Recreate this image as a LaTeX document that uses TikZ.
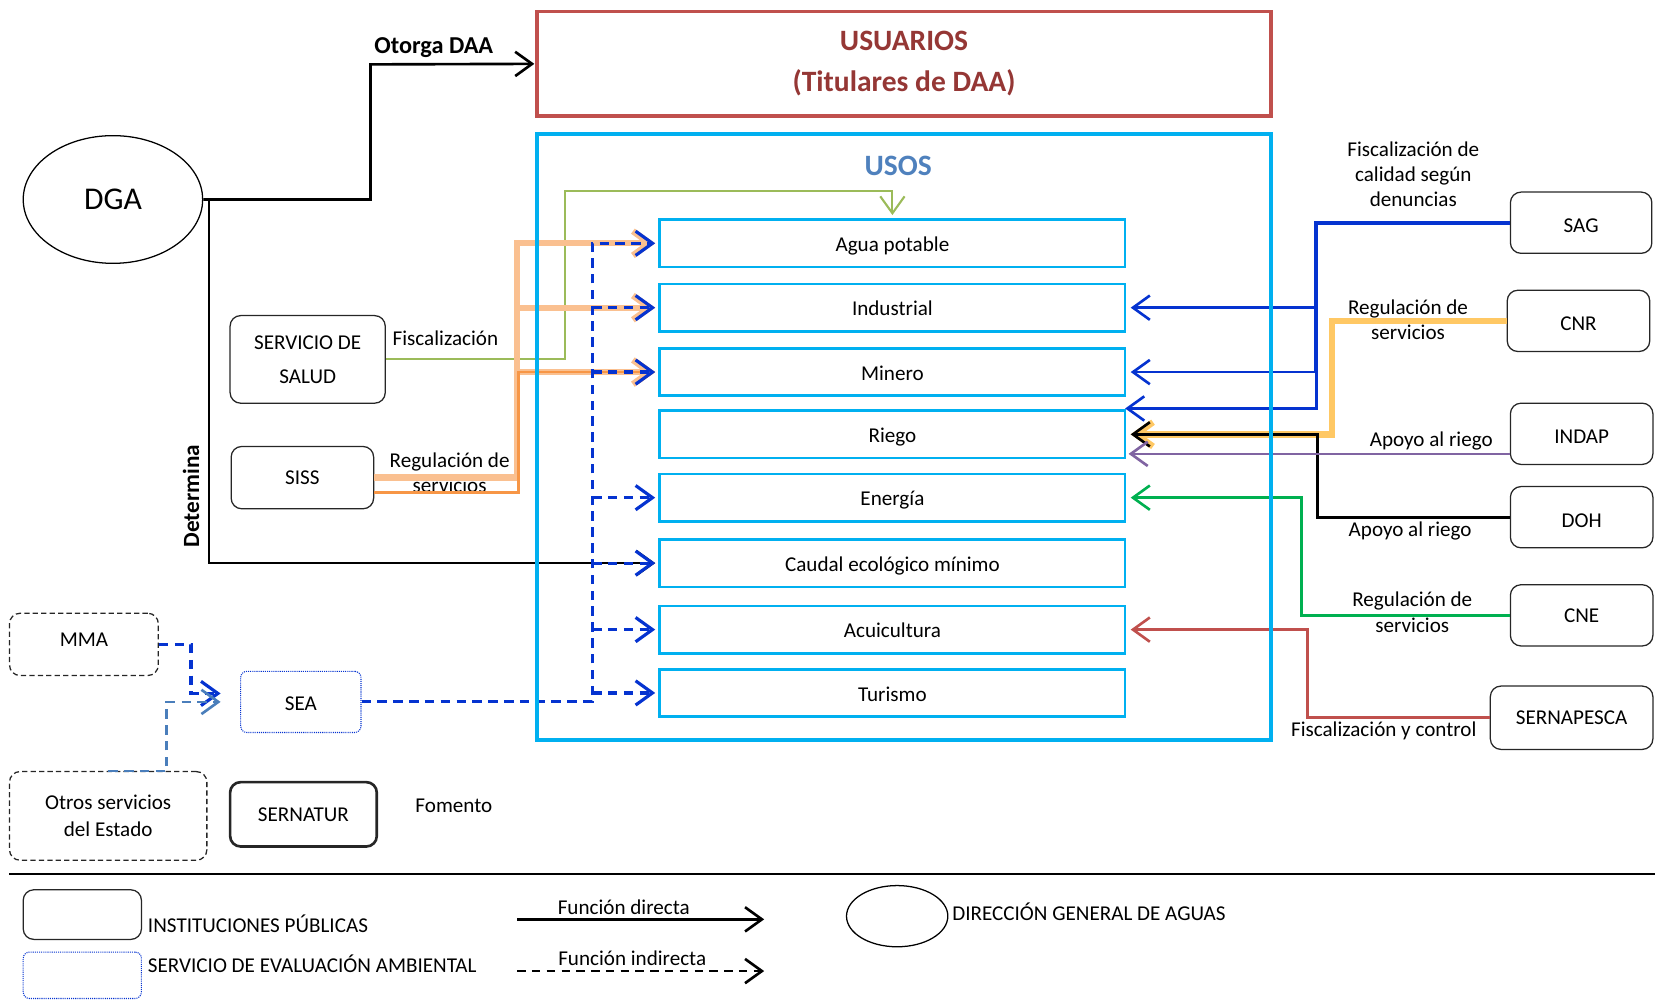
\documentclass[tikz,border=0pt]{standalone}
\usepackage{fontspec}
\setmainfont{Carlito}
\usetikzlibrary{arrows.meta,shapes.geometric}
\definecolor{cred}{HTML}{C0504D}
\definecolor{cdred}{HTML}{953735}
\definecolor{ccyan}{HTML}{00B0F0}
\definecolor{csteel}{HTML}{4F81BD}
\definecolor{cgreen}{HTML}{9BBB59}
\definecolor{corl}{HTML}{FAC090}
\definecolor{cor}{HTML}{F79646}
\definecolor{cblue}{HTML}{0533D0}
\definecolor{cyel}{HTML}{FFC864}
\definecolor{cpur}{HTML}{8064A2}
\definecolor{cgrn}{HTML}{00B050}
\definecolor{clb}{HTML}{4A7EBB}
\begin{document}
\begin{tikzpicture}[x=1pt,y=-1pt,
  every node/.style={inner sep=0pt},
  >={Straight Barb[length=16pt,width=23pt]},
  fs/.style={font=\fontsize{20}{24}\selectfont},
  lbl/.style={fs,align=center},
  usobox/.style={draw=ccyan,line width=2.5pt,minimum width=441pt,minimum height=45pt,fs,text height=15.5pt,text depth=0pt},
  inst/.style={draw=black!85,line width=1.2pt,rounded corners=10pt,align=center,fs},
  lowtext/.style={text height=19pt,text depth=0pt},
  dinst/.style={draw=black!85,line width=1.2pt,dash pattern=on 5pt off 3pt,rounded corners=10pt,align=center,fs},
  bdash/.style={cblue,line width=3pt,dash pattern=on 9pt off 6pt},
  conn/.style={line width=2.5pt,shorten >=3pt},
  bold/.style={font=\fontsize{23}{26}\selectfont\bfseries}]
\useasboundingbox (0,0) rectangle (1568,948);

% ---------- main boxes ----------
\node[draw=cred,line width=3.5pt,minimum width=695pt,minimum height=99pt,align=center,text=cdred,
  font=\fontsize{28}{39}\selectfont\bfseries] (usuarios) at (856.5,60.5) {USUARIOS\\(Titulares de DAA)};
\node[minimum width=695pt,minimum height=574pt] (usos) at (856.5,414) {};
\node[text=csteel,font=\fontsize{28}{30}\selectfont\bfseries] (usostitle) at (851,157) {USOS};

\node[usobox] (agua) at (845.5,230.5) {Agua potable};
\node[usobox] (industrial) at (845.5,291.5) {Industrial};
\node[usobox] (minero) at (845.5,352.5) {Minero};
\node[usobox] (riego) at (845.5,411.5) {Riego};
\node[usobox] (energia) at (845.5,471.5) {Energía};
\node[usobox] (caudal) at (845.5,533.5) {Caudal ecológico mínimo};
\node[usobox] (acui) at (845.5,596.5) {Acuicultura};
\node[usobox] (turismo) at (845.5,656.5) {Turismo};

% ---------- left side ----------
\node[ellipse,draw,line width=1.2pt,minimum width=170pt,minimum height=121pt,
  font=\fontsize{30}{32}\selectfont] (dga) at (107,189) {DGA};
\node[inst,minimum width=147pt,minimum height=83pt,font=\fontsize{20}{32}\selectfont] (salud) at (291.5,340.5) {SERVICIO DE\\SALUD};
\node[inst,minimum width=135pt,minimum height=59pt] (siss) at (286.5,452.5) {SISS};
\node[dinst,minimum width=141pt,minimum height=59pt,text height=8pt,text depth=4pt] (mma) at (79.5,610.5) {MMA};
\node[draw=cblue,line width=1pt,densely dotted,rounded corners=6pt,minimum width=114pt,minimum height=58pt,fs,text height=17pt,text depth=0pt] (sea) at (285,665) {SEA};
\node[dinst,minimum width=187pt,minimum height=84pt,align=center,font=\fontsize{20}{25}\selectfont] (otros) at (102.5,773) {Otros servicios\\del Estado};
\node[inst,line width=2.5pt,minimum width=139pt,minimum height=61pt] (sernatur) at (287.5,771.5) {SERNATUR};
\node[lbl] (fomento) at (430,763) {Fomento};

\node[bold] (otorga) at (411,45) {Otorga DAA};
\node[bold,font=\fontsize{22}{26}\selectfont\bfseries,rotate=90] (determina) at (181,470) {Determina};
\node[lbl] (fisclbl) at (422,320) {Fiscalización};
\node[lbl,font=\fontsize{20}{23}\selectfont] (reglbl) at (426,448) {Regulación de\\servicios};

% ---------- right side ----------
\node[inst,lowtext,minimum width=134pt,minimum height=58pt] (sag) at (1498,211) {SAG};
\node[inst,lowtext,minimum width=135pt,minimum height=58pt] (cnr) at (1495.5,304) {CNR};
\node[inst,lowtext,minimum width=135pt,minimum height=58pt] (indap) at (1498.5,411) {INDAP};
\node[inst,lowtext,minimum width=135pt,minimum height=58pt] (doh) at (1498.5,490) {DOH};
\node[inst,minimum width=135pt,minimum height=58pt] (cne) at (1498.5,583) {CNE};
\node[inst,minimum width=154pt,minimum height=60pt] (sernapesca) at (1489,680) {SERNAPESCA};

\node[lbl] (l1) at (1339,165) {Fiscalización de\\calidad según\\denuncias};
\node[lbl] (l2) at (1334,303) {Regulación de\\servicios};
\node[lbl] (l3) at (1356,418) {Apoyo al riego};
\node[lbl] (l4) at (1336,503) {Apoyo al riego};
\node[lbl] (l5) at (1338,580) {Regulación de\\servicios};
\node[lbl] (l6) at (1311,692) {Fiscalización y control};

% ---------- helper coordinates ----------
\coordinate (otx) at (351,61);
\coordinate (g1) at (535,181);
\coordinate (o1) at (490,291.5);
\coordinate (o2) at (491,352.5);
\coordinate (bx) at (561,0);
\coordinate (mmaj) at (181,657);
\coordinate (seain1) at (209,657);
\coordinate (otj) at (158,665);
\coordinate (seain2) at (209,665);
\coordinate (sx) at (1247,0);
\coordinate (cx) at (1262,0);
\coordinate (dx) at (1248,0);
\coordinate (nx) at (1233,0);
\coordinate (rx) at (1239,0);
\coordinate (ip) at (1431,430);
\coordinate (rtop) at (1066,387);

% ---------- connectors: left ----------
\draw[conn,->,shorten >=1pt] (dga.east) -| (otx) -- (usuarios.west);
\draw[line width=2pt,->,shorten >=3pt] ([xshift=5pt]dga.east) |- (caudal.west);

\draw[cgreen,line width=2pt,->,shorten >=3pt] (salud.east) -| (g1) -| (agua.north);

\draw[corl,line width=6pt,->,shorten >=3pt] (siss.east) -| (o1) |- (agua.west);
\draw[corl,line width=6pt,->,shorten >=3pt] (o1) -- (industrial.west);
\draw[corl,line width=6pt,->,shorten >=3pt] (o2) -- (minero.west);
\draw[cor,line width=2.5pt,->,shorten >=3pt] ([yshift=-14pt]siss.east) -| (o2) -- (minero.west);

\draw[bdash,->,shorten >=3pt] (sea.east) -| (agua.west -| bx) -- (agua.west);
\foreach \n in {industrial,minero,energia,caudal,acui,turismo}
  \draw[bdash,->,shorten >=3pt] (\n.west -| bx) -- (\n.west);

\draw[bdash,->] (mma.east) -| (mmaj) -- (seain1);
\draw[clb,line width=2.5pt,dash pattern=on 9pt off 6pt,->] (otros.north) -| (otj) -- (seain2);

% ---------- connectors: right ----------
\draw[cblue,line width=3.5pt] (sag.west) -| (minero.east -| sx);
\draw[cblue,conn,->,shorten >=0pt] (minero.east -| sx) |- (rtop);
\draw[cblue,conn,->,shorten >=4pt] (industrial.east -| sx) -- (industrial.east);
\draw[cblue,conn,->,shorten >=4pt] (minero.east -| sx) -- (minero.east);
\draw[cyel,line width=6pt,->,shorten >=4pt] (cnr.west) -| (riego.east -| cx) -- (riego.east);
\draw[black,conn,->,shorten >=4pt] (doh.west) -| (riego.east -| dx) -- (riego.east);
\draw[cpur,conn,->,shorten >=2pt] (ip) -- (ip -| riego.east);
\draw[cgrn,conn,->,shorten >=4pt] (cne.west) -| (energia.east -| nx) -- (energia.east);
\draw[cred,conn,->,shorten >=4pt] (sernapesca.west) -| (acui.east -| rx) -- (acui.east);

% USOS frame on top
\draw[ccyan,line width=3.5pt] (usos.north west) rectangle (usos.south east);

% ---------- separator & legend ----------
\coordinate (sep1) at (9,828);
\coordinate (sep2) at (1568,828);
\draw[line width=2pt] (sep1) -- (sep2);

\node[inst,minimum width=112pt,minimum height=47pt] (leg1) at (78,866.5) {};
\node[fs,anchor=west] (leg1t) at (140,875) {INSTITUCIONES PÚBLICAS};
\node[draw=cblue,line width=1pt,densely dotted,rounded corners=6pt,minimum width=112pt,minimum height=44pt] (leg2) at (78,924) {};
\node[fs,anchor=west] (leg2t) at (140,913) {SERVICIO DE EVALUACIÓN AMBIENTAL};
\coordinate (ld1) at (490,871);
\coordinate (ld2) at (724,871);
\coordinate (li1) at (490,920);
\coordinate (li2) at (724,920);
\draw[line width=2.5pt,->] (ld1) -- (ld2);
\draw[line width=2.5pt,dash pattern=on 8pt off 6pt,->] (li1) -- (li2);
\node[fs] (ldt) at (591,860) {Función directa};
\node[fs] (lit) at (599,908) {Función indirecta};
\node[ellipse,draw,line width=1.2pt,minimum width=96pt,minimum height=58pt] (legdga) at (850,868) {};
\node[fs,anchor=west] (legdgat) at (902,864) {DIRECCIÓN GENERAL DE AGUAS};
\end{tikzpicture}
\end{document}
